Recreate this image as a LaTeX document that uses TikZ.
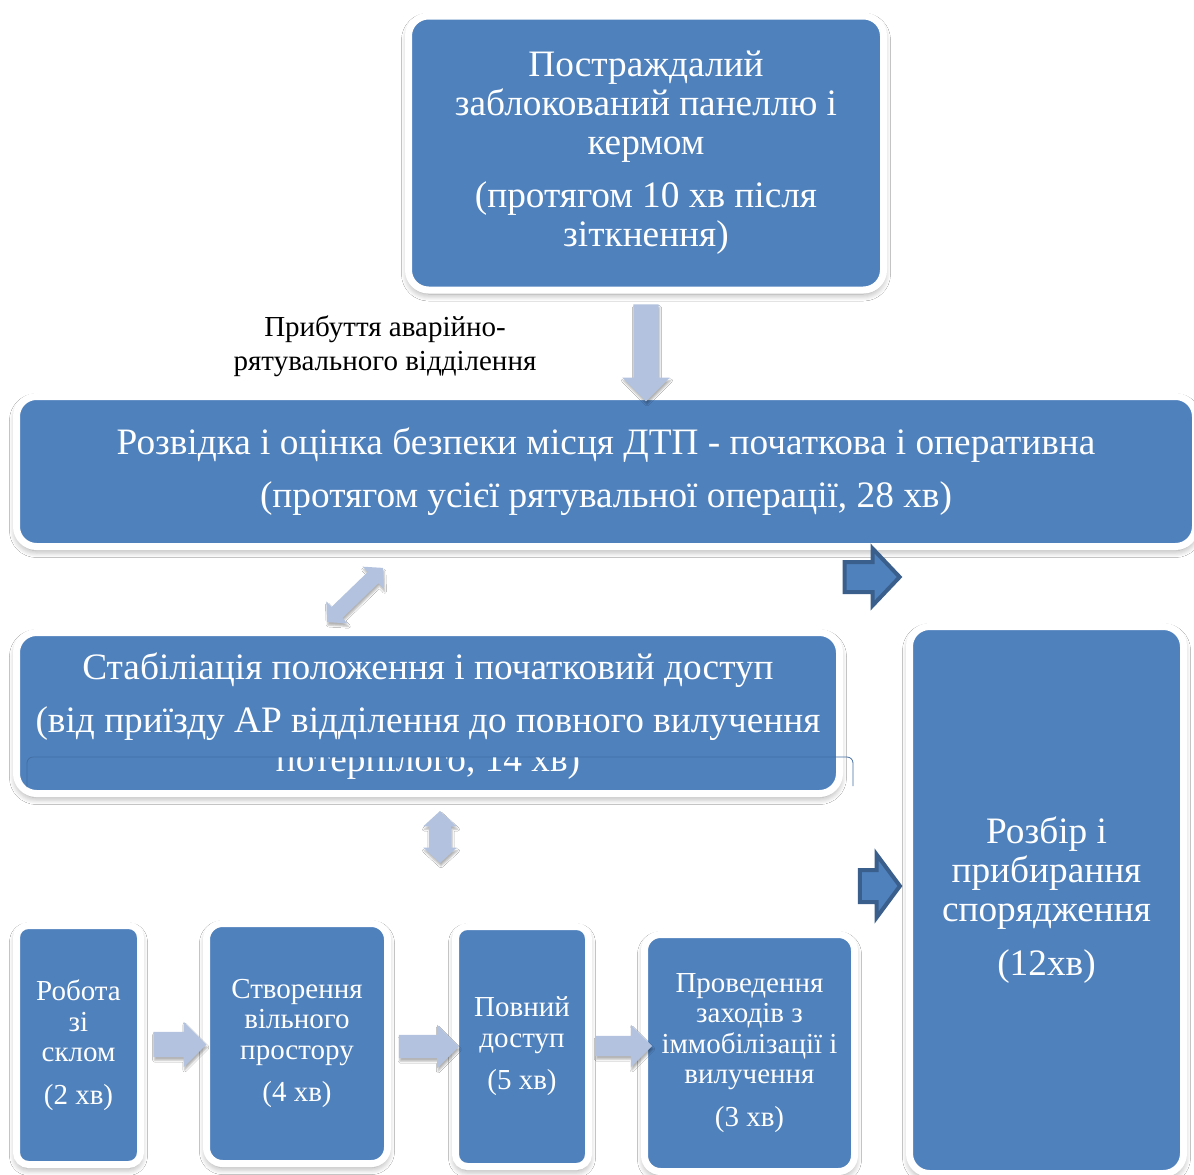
\documentclass[tikz,border=0pt]{standalone}
\usepackage{fontspec}
\setmainfont{Liberation Serif}
\usetikzlibrary{positioning,shapes.arrows,shadows.blur}
\definecolor{boxblue}{HTML}{4F81BD}
\definecolor{paleblue}{HTML}{B3C3DF}
\definecolor{darkblue}{HTML}{3A5F8C}
\tikzset{
  bluebox/.style={fill=boxblue, draw=white, line width=7pt, rounded corners=20pt,
    text=white, align=center, inner sep=0pt,
    blur shadow={shadow xshift=0pt, shadow yshift=-4pt, shadow blur radius=7pt, shadow blur steps=8, shadow opacity=40}},
  bigtext/.style={font=\fontsize{37.3}{39}\selectfont},
  smalltext/.style={font=\fontsize{29}{30.5}\selectfont},
  palearrow/.style={single arrow, fill=paleblue, inner xsep=0pt, single arrow tip angle=90,
    blur shadow={shadow xshift=1pt, shadow yshift=-3pt, shadow blur steps=4, shadow opacity=30}},
  paledouble/.style={double arrow, fill=paleblue, inner xsep=0pt, double arrow tip angle=95,
    blur shadow={shadow xshift=1pt, shadow yshift=-3pt, shadow blur steps=4, shadow opacity=30}},
  darkarrow/.style={single arrow, fill=boxblue, draw=darkblue, line width=4pt, inner xsep=0pt}
}
\begin{document}
\begin{tikzpicture}[x=1pt, y=-1pt]
    \useasboundingbox (0,0) rectangle (1194,1175);
    \fill[white] (0,0) rectangle (1194,1175);

    % Top box
    \node[bluebox, bigtext, minimum width=475pt, minimum height=274pt] (victim) at (646,153)
        {Постраждалий\\заблокований панеллю і\\кермом\\[14pt](протягом 10 хв після\\зіткнення)};

    % Arrival label
    \node[font=\fontsize{29}{34}\selectfont, align=center] (arrival) at (385,346)
        {Прибуття аварійно-\\рятувального відділення};

    % Reconnaissance box
    \node[bluebox, bigtext, minimum width=1179pt, minimum height=150pt] (recon) at (606,471.5)
        {Розвідка і оцінка безпеки місця ДТП - початкова і оперативна\\[14pt](протягом усієї рятувальної операції, 28 хв)};

    % Stabilisation box
    \node[bluebox, minimum width=823pt, minimum height=161pt] (stab) at (428,713) {};
    \node[bigtext, text=white, anchor=base] (stabA) at (428,679) {Стабіліація положення і початковий доступ};
    \node[bigtext, text=white, anchor=base] (stabB) at (428,732) {(від приїзду АР відділення до повного вилучення};
    \begin{scope}
        \clip (0,757) rectangle (1194,800);
        \node[bigtext, text=white, anchor=base] (stabC) at (428,771) {потерпілого, 14 хв)};
    \end{scope}
    \draw[boxblue!85!black, line width=0.8pt, rounded corners=6pt] (27,787) -- (27,757) -- (853,757) -- (853,786);

    % Clean-up box
    \node[bluebox, bigtext, minimum width=274pt, minimum height=547pt] (cleanup) at (1046.5,900)
        {Розбір і\\прибирання\\спорядження\\[15pt](12хв)};

    % Bottom row
    \node[bluebox, smalltext, rounded corners=12pt, minimum width=124pt, minimum height=239pt] (glass) at (78.5,1045)
        {Робота\\зі\\склом\\[12pt](2 хв)};
    \node[bluebox, smalltext, rounded corners=16pt, minimum width=181pt, minimum height=240pt] (space) at (297,1043.5)
        {Створення\\вільного\\простору\\[12pt](4 хв)};
    \node[bluebox, smalltext, rounded corners=12pt, minimum width=133pt, minimum height=240pt] (access) at (522,1046.5)
        {Повний\\доступ\\[12pt](5 хв)};
    \node[bluebox, smalltext, rounded corners=16pt, minimum width=210pt, minimum height=237pt] (immob) at (749.5,1053)
        {Проведення\\заходів з\\іммобілізації і\\вилучення\\[12pt](3 хв)};

    % Block arrows
    \node[palearrow, rotate=-90, minimum height=97pt, inner ysep=12.5pt, single arrow head extend=11pt] (downarr) at (646,346.5) {};
    \node[paledouble, rotate=44, minimum height=78pt, inner ysep=7.5pt, double arrow head extend=7.5pt] (diagarr) at (355,595) {};
    \node[paledouble, rotate=90, minimum height=52pt, inner ysep=11pt, double arrow head extend=5.5pt] (vertarr) at (440,837) {};
    \node[palearrow, minimum height=53pt, inner ysep=12.5pt, single arrow head extend=10pt] (arrA) at (173.5,1044.5) {};
    \node[palearrow, minimum height=60pt, inner ysep=11.5pt, single arrow head extend=10pt] (arrB) at (423,1046.5) {};
    \node[palearrow, minimum height=57pt, inner ysep=10pt, single arrow head extend=11pt] (arrC) at (618.5,1046) {};
    \node[darkarrow, minimum height=55pt, inner ysep=13pt, single arrow head extend=13.5pt, single arrow tip angle=93] (darkA) at (865,577) {};
    \node[darkarrow, minimum height=40pt, inner ysep=14pt, single arrow head extend=15.5pt, single arrow tip angle=107] (darkB) at (874,886) {};

\end{tikzpicture}
\end{document}
